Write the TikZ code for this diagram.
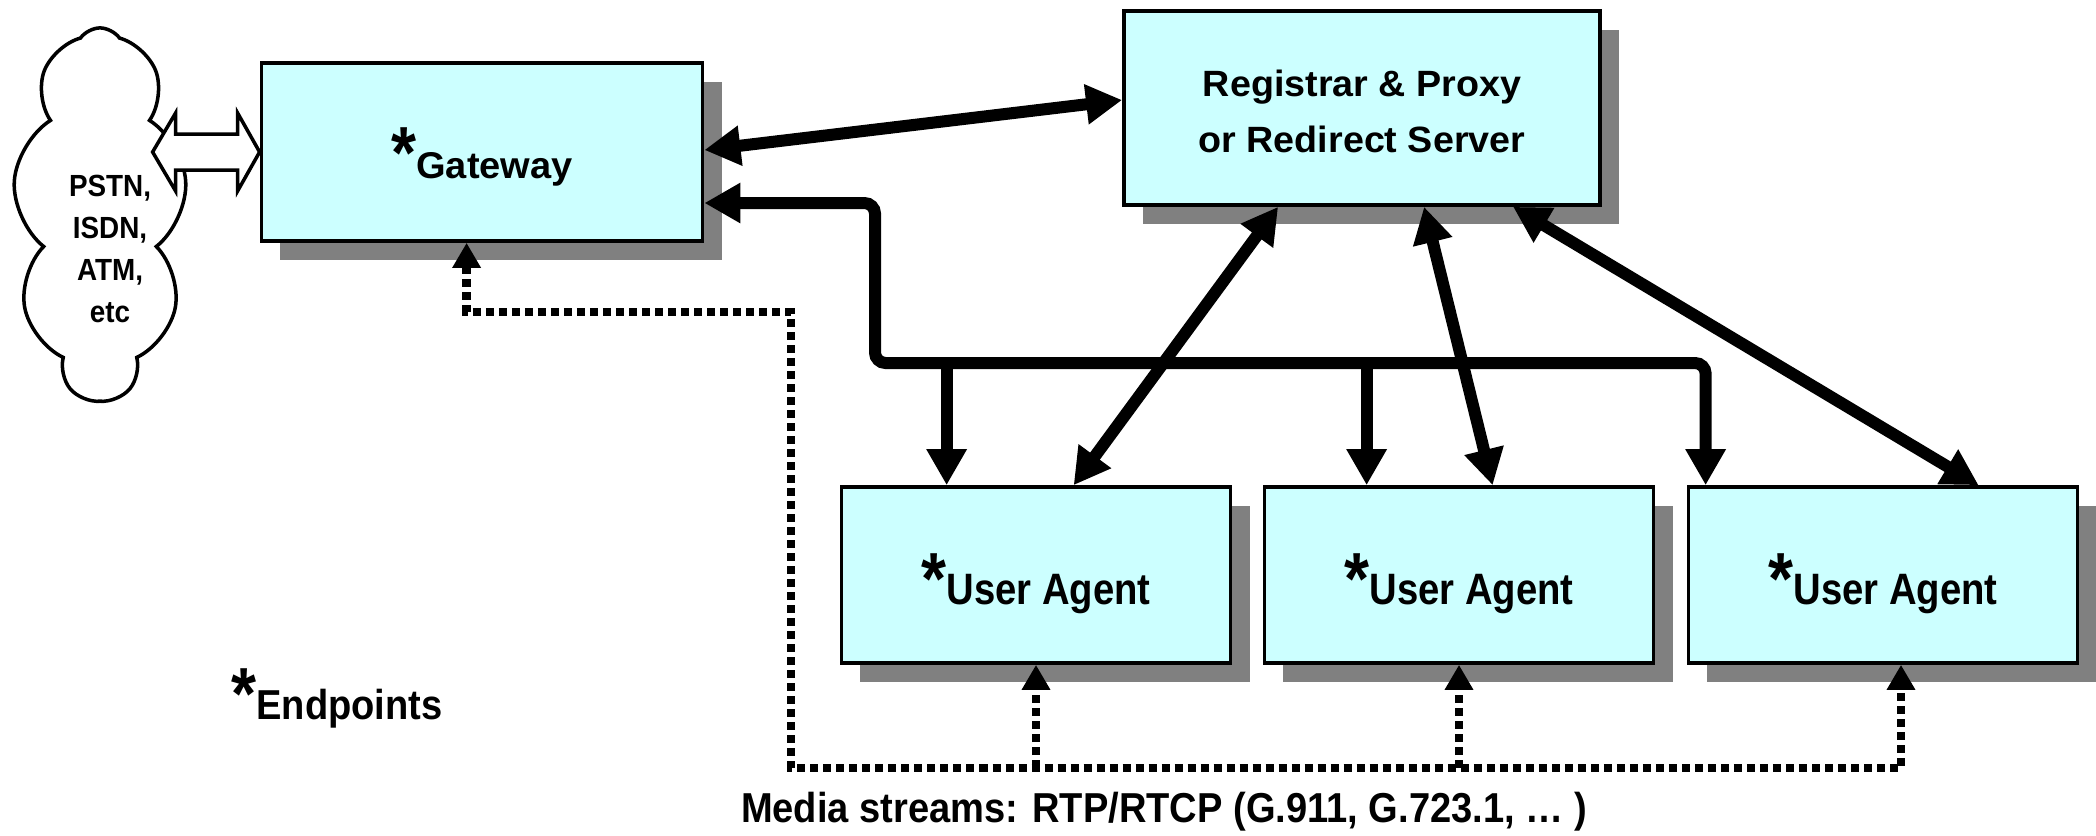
\documentclass[tikz,border=0pt]{standalone}
\usepackage{fontspec}
\setmainfont{Liberation Sans}[FakeStretch=0.87]
\newfontfamily\gwfont{Liberation Sans}[FakeStretch=1.02]
\newfontfamily\regfont{Liberation Sans}[FakeStretch=1.03]
\newfontfamily\notefont{Liberation Sans}[FakeStretch=0.91]
\usetikzlibrary{arrows.meta,calc,shadows,shapes.symbols}

\definecolor{boxcyan}{HTML}{CCFFFF}
\definecolor{shadowgray}{HTML}{808080}

% big star in front of the endpoint names, strut keeps the baseline low
\newcommand{\ep}[2][0.68cm]{{\rmfamily\fontsize{21}{21}\selectfont*}#2\rule{0pt}{#1}}

\tikzset{
	box/.style = {draw, line width = 1pt, fill = boxcyan, align = center, inner sep = 0pt,
		drop shadow = {shadow xshift = 0.19cm, shadow yshift = -0.19cm, fill = shadowgray, opacity = 1}},
	uabox/.style = {box, minimum width = 3.89cm, minimum height = 1.76cm, font = \fontsize{12.5}{15}\selectfont\bfseries},
	sig/.style = {line width = 0.12cm, {Triangle[length = 0.36cm, width = 0.38cm]}-{Triangle[length = 0.36cm, width = 0.38cm]}},
	drop/.style = {line width = 0.12cm, -{Triangle[length = 0.36cm, width = 0.38cm]}},
	media/.style = {line width = 0.085cm, dash pattern = on 0.08cm off 0.05cm},
}

\begin{document}
\begin{tikzpicture}[x = 0.01cm, y = -0.01cm, font = \bfseries]%SIP components
	\useasboundingbox (0,0) rectangle (2096,835);

	\node[box, minimum width = 4.41cm, minimum height = 1.78cm, font = \gwfont\fontsize{10.6}{13}\selectfont\bfseries] (gw) at (482,152) {\ep[0.6cm]{Gateway}};
	\node[box, minimum width = 4.76cm, minimum height = 1.94cm, font = \regfont\fontsize{10.4}{15.9}\selectfont\bfseries] (reg) at (1362,108)
		{\rule{0pt}{0.34cm}Registrar \& Proxy\\or Redirect Server};
	\node[uabox] (ua1) at (1036,575) {\ep{User Agent}};
	\node[uabox] (ua2) at (1459,575) {\ep{User Agent}};
	\node[uabox] (ua3) at (1883,575) {\ep{User Agent}};

	% other networks
	\node[cloud, draw, line width = 1pt, cloud puffs = 9, cloud puff arc = 110, aspect = 0.47,
		minimum width = 1.74cm, minimum height = 3.72cm] (pstn) at (100,214) {};
	\node[align = center, font = \notefont\fontsize{8.7}{11.9}\selectfont\bfseries, inner sep = 0pt] (nets) at (110,249) {PSTN,\\ISDN,\\ATM,\\etc};
	\draw[line width = 1pt, fill = white] (gw.west) -- ++(-22,-39) -- ++(0,21) -- ++(-62,0) -- ++(0,-21) -- ++(-23,39)
		-- ++(23,39) -- ++(0,-21) -- ++(62,0) -- ++(0,21) -- cycle;

	\node[font = \notefont\fontsize{11.9}{14}\selectfont\bfseries, inner sep = 0pt] (endp) at (337,690) {\ep{Endpoints}};
	\node[font = \notefont\fontsize{11.9}{14}\selectfont\bfseries, inner sep = 0pt] (media) at (1164,812) {Media streams: RTP/RTCP (G.911, G.723.1, … )};

	% signalling
	\draw[sig] ($(gw.east)+(0,-2)$) -- ($(reg.west)+(0,-8)$);
	\draw[sig] ($(reg.south west)+(156,0)$) -- ($(ua1.north west)+(234,0)$);
	\draw[sig] ($(reg.south west)+(302,0)$) -- ($(ua2.north west)+(230,0)$);
	\draw[sig] ($(reg.south west)+(391,0)$) -- ($(ua3.north west)+(292,0)$);

	\coordinate (hub) at (875,363);
	\coordinate (d1) at ($(ua1.north west)+(107,0)$);
	\coordinate (d2) at ($(ua2.north west)+(104,0)$);
	\coordinate (d3) at ($(ua3.north west)+(19,0)$);
	\draw[sig, rounded corners = 3pt] ($(gw.east)+(0,51)$) -| (hub) -| (d3);
	\foreach \d in {d1,d2}
		\draw[drop] (\d |- hub) -- (\d);

	% media
	\coordinate (m0) at ($(gw.south west)+(207,0)$);
	\coordinate (ma) at (791,312);
	\coordinate (mb) at (791,768);
	\coordinate (m3) at ($(ua3.south)+(18,0)$);
	\draw[media, {Triangle[length = 0.25cm, width = 0.27cm]}-{Triangle[length = 0.25cm, width = 0.27cm]}] (m0) |- (ma) -- (mb) -| (m3);
	\foreach \u in {ua1,ua2}
		\draw[media, -{Triangle[length = 0.25cm, width = 0.27cm]}] (\u.south |- mb) -- (\u.south);
\end{tikzpicture}
\end{document}
